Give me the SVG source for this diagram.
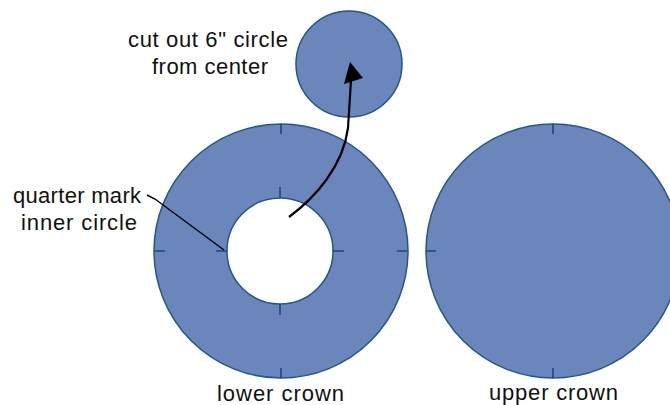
<svg xmlns="http://www.w3.org/2000/svg" width="670" height="405" viewBox="0 0 670 405">
<style>
.disc{fill:#6a86ba;stroke:#24558f;stroke-width:1.5}
.hole{fill:#ffffff;stroke:#24558f;stroke-width:1.5}
.tick{stroke:#1b4680;stroke-width:1.6;fill:none}
.lbl{font-family:"Liberation Sans",Arial,sans-serif;font-size:22px;fill:#111}
.lead{stroke:#000;stroke-width:1.4;fill:none}
.arr{stroke:#000;stroke-width:2.2;fill:none}
</style>
<rect width="670" height="405" fill="#ffffff"/>
<g id="cutout">
<circle class="disc" cx="349" cy="64" r="53"/>
</g>
<g id="lower-crown">
<circle class="disc" cx="281" cy="251" r="127"/>
<circle class="hole" cx="280" cy="251" r="53"/>
<path class="tick" d="M281,124V134M155,251H165M407,251H397M281,378V368M280,198V187M227,251H216M333,251H344M280,304V315"/>
</g>
<g id="upper-crown">
<circle class="disc" cx="553" cy="251" r="127"/>
<path class="tick" d="M553,124V134M426,251H436M553,378V368"/>
</g>
<g id="connectors">
<path class="arr" d="M289,217 C316,197 343,166 348,128 L351,80"/>
<polygon points="350,62 344,84 363,78" fill="#000"/>
<path class="lead" d="M147,195 L155,199 L224,250"/>
</g>
<g id="labels">
<text class="lbl" x="128" y="47" textLength="160" lengthAdjust="spacing">cut out 6" circle</text>
<text class="lbl" x="152" y="74" textLength="116" lengthAdjust="spacing">from center</text>
<text class="lbl" x="13" y="203" textLength="128" lengthAdjust="spacing">quarter mark</text>
<text class="lbl" x="21" y="230" textLength="116" lengthAdjust="spacing">inner circle</text>
<text class="lbl" x="217" y="401" textLength="127" lengthAdjust="spacing">lower crown</text>
<text class="lbl" x="489" y="400" textLength="129" lengthAdjust="spacing">upper crown</text>
</g>
</svg>
